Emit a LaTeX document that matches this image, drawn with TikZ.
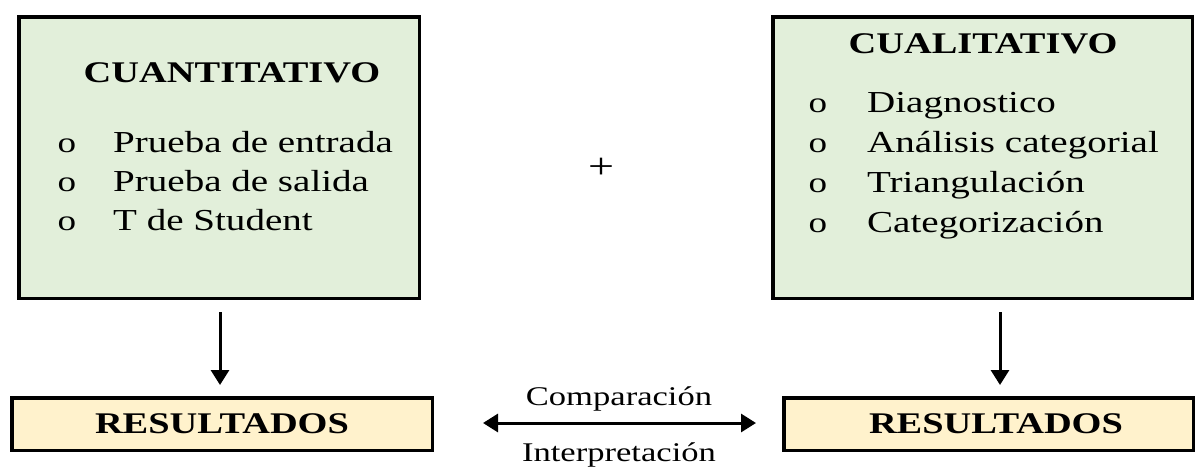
\documentclass[tikz,border=0pt]{standalone}
\usepackage{fontspec}
\setmainfont{Liberation Serif}[FakeStretch=1.28]
\usetikzlibrary{arrows.meta}
\definecolor{boxgreen}{HTML}{E2EFDA}
\definecolor{boxcream}{HTML}{FFF2CC}
\begin{document}
\begin{tikzpicture}[x=1pt,y=-1pt,
  panel/.style={draw=black, line width=3.5pt, fill=boxgreen, minimum height=281.5pt, inner sep=0pt},
  result/.style={draw=black, line width=3.5pt, fill=boxcream, minimum height=52.5pt, inner sep=0pt,
    font=\fontsize{30}{36}\selectfont\bfseries},
  heading/.style={anchor=base, inner sep=0pt, font=\fontsize{30}{36}\selectfont\bfseries},
  bul/.style={anchor=base, inner sep=0pt, font=\fontsize{29}{35}\selectfont},
  item/.style={anchor=base west, inner sep=0pt, font=\fontsize{30.5}{36}\selectfont},
  link/.style={anchor=base, inner sep=0pt, font=\fontsize{27}{32}\selectfont},
  arr/.style={-{Triangle[width=18pt,length=15pt]}, line width=3pt},
  dblarr/.style={{Triangle[width=18pt,length=15pt]}-{Triangle[width=18pt,length=15pt]}, line width=3pt}
]
\useasboundingbox (0,0) rectangle (1197,466);

% upper panels
\node[panel, minimum width=400.5pt] (cuant) at (219,157.5) {};
\node[panel, minimum width=419.5pt] (cual) at (982.5,157.5) {};

% quantitative panel content
\node[heading] (cuanttitle) at (232,82) {CUANTITATIVO};
\node[bul] (b1) at (67,152) {o};
\node[bul] (b2) at (67,191) {o};
\node[bul] (b3) at (67,230) {o};
\node[item] (i1) at (113,152) {Prueba de entrada};
\node[item] (i2) at (113,191) {Prueba de salida};
\node[item] (i3) at (113,230) {T de Student};

% qualitative panel content
\node[heading] (cualtitle) at (983,53) {CUALITATIVO};
\node[bul] (c1) at (818,112) {o};
\node[bul] (c2) at (818,152) {o};
\node[bul] (c3) at (818,192) {o};
\node[bul] (c4) at (818,232) {o};
\node[item] (j1) at (867,112) {Diagnostico};
\node[item] (j2) at (867,152) {Análisis categorial};
\node[item] (j3) at (867,192) {Triangulación};
\node[item] (j4) at (867,232) {Categorización};

% plus sign between the panels
\node[inner sep=0pt, font=\fontsize{36}{42}\selectfont] (plus) at (601,168) {+};

% result boxes
\node[result, minimum width=420.5pt] (res1) at (222,424) {RESULTADOS};
\node[result, minimum width=409.5pt] (res2) at (988.5,424) {\hspace*{15pt}RESULTADOS};

% arrows
\draw[arr, shorten <=12pt, shorten >=11pt] ([xshift=1pt]cuant.south) -- ([xshift=1pt]cuant.south |- res1.north);
\draw[arr, shorten <=12pt, shorten >=11pt] ([xshift=17.5pt]cual.south) -- ([xshift=17.5pt]cual.south |- res2.north);
\draw[dblarr, shorten <=49pt, shorten >=26pt] ([yshift=1pt]res1.east) -- ([yshift=1pt]res2.west);

% labels of the comparison arrow
\node[link] (comp) at (619,405) {Comparación};
\node[link] (interp) at (619,461) {Interpretación};
\end{tikzpicture}
\end{document}
